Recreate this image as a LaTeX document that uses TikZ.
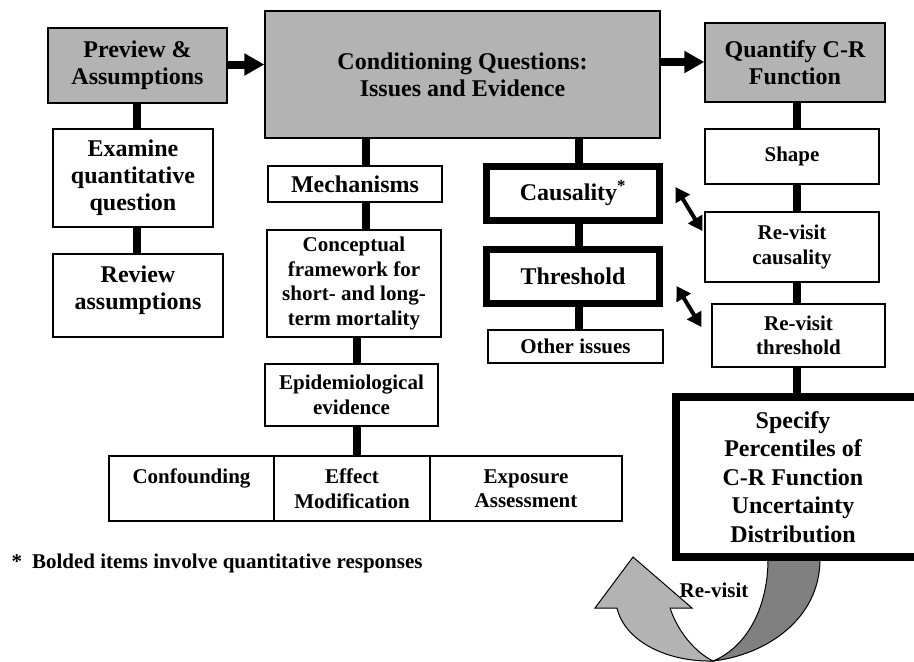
\documentclass[tikz,border=0pt]{standalone}
\usepackage{fontspec}
\setmainfont{Liberation Serif}
\usetikzlibrary{arrows.meta}
\definecolor{boxgray}{RGB}{179,179,179}
\definecolor{darkband}{RGB}{128,128,128}
\tikzset{
  every node/.style={font=\bfseries},
  big/.style={font=\bfseries\fontsize{24}{27}\selectfont},
  small/.style={font=\bfseries\fontsize{21}{24.5}\selectfont},
  box/.style={draw=black, line width=1.3pt, fill=white, align=center, inner sep=0pt},
  graybox/.style={box, fill=boxgray},
  heavybox/.style={draw=black, line width=7pt, fill=white, align=center, inner sep=0pt},
  link/.style={line width=8pt},
  fatarrow/.style={line width=8pt, -{Triangle[length=20pt,width=21pt]}},
  dblarrow/.style={line width=4pt, {Triangle[length=14pt,width=16pt]}-{Triangle[length=14pt,width=16pt]}},
  band/.style={draw=black, line width=1pt},
}
\begin{document}
\begin{tikzpicture}[x=1pt,y=-1pt]
\useasboundingbox (0,0) rectangle (914,662);

% curved re-visit arrow
\path[band, fill=darkband] (768,559) .. controls (768,610) and (745,648) .. (713,661)
  .. controls (765,655) and (820,620) .. (820,559) -- cycle;
\path[band, fill=boxgray] (713,661) .. controls (668,662) and (625,642) .. (617,608)
  -- (595,608) -- (633,557) -- (692,608) -- (670,608)
  .. controls (678,632) and (695,652) .. (713,661) -- cycle;
\node[small] (rv) at (714,590) {Re-visit};

% top row
\node[graybox, big, minimum width=179, minimum height=75] (prev) at (137.5,65.5) {Preview \&\\Assumptions};
\node[graybox, big, minimum width=395, minimum height=127] (cond) at (462.5,74.5) {Conditioning Questions:\\Issues and Evidence};
\node[graybox, big, minimum width=180, minimum height=79] (quant) at (795,62.5) {Quantify C-R\\Function};

% left column
\node[box, big, minimum width=160, minimum height=98] (exam) at (133,178) {Examine\\quantitative\\question};
\node[box, big, minimum width=170, minimum height=83] (rev) at (138,295.5) {Review\\assumptions\\[-12pt]\mbox{}};

% middle column
\node[box, big, minimum width=174, minimum height=36] (mech) at (355,184) {Mechanisms};
\node[box, small, minimum width=174, minimum height=107] (conc) at (354,283.5) {Conceptual\\framework for\\short- and long-\\term mortality};
\node[box, small, minimum width=173, minimum height=62] (epi) at (351.5,395) {Epidemiological\\evidence};
\node[box, small, minimum width=165, minimum height=65] (t1) at (191.5,488.5) {Confounding\\\mbox{}};
\node[box, small, minimum width=156, minimum height=65] (t2) at (352,488.5) {Effect\\Modification};
\node[box, small, minimum width=192, minimum height=65] (t3) at (526,488.5) {Exposure\\Assessment};

% issues column
\node[heavybox, big, minimum width=173, minimum height=54] (caus) at (573,193.5) {Causality\textsuperscript{*}};
\node[heavybox, big, minimum width=173, minimum height=54] (thr) at (573,276.5) {Threshold};
\node[box, small, minimum width=175, minimum height=33] (oth) at (575.5,346.5) {Other issues};

% right column
\node[box, small, minimum width=174, minimum height=55] (shape) at (792,156.5) {Shape};
\node[box, small, minimum width=174, minimum height=70] (rvc) at (792,247) {Re-visit\\causality};
\node[box, small, minimum width=173, minimum height=63] (rvt) at (798.5,335.5) {Re-visit\\threshold};
\node[heavybox, line width=8pt, minimum width=259, minimum height=160] (spec) at (805.5,477) {};
\node[font=\bfseries\fontsize{24}{28.5}\selectfont, align=center] (spectext) at (793,477) {Specify\\Percentiles of\\C-R Function\\Uncertainty\\Distribution};

% footnote
\node[small, anchor=west] (note) at (8,563) {*\hspace{10pt}Bolded items involve quantitative responses};

% helper coordinates for connector positions
\coordinate (xl) at (137,0);
\coordinate (xm1) at (366,0);
\coordinate (xm2) at (357,0);
\coordinate (xi) at (579,0);
\coordinate (xr) at (797,0);
\coordinate (ya) at (0,64.5);
\coordinate (yb) at (0,62);

% connectors
\draw[link] (prev.south -| xl) -- (exam.north -| xl);
\draw[link] (exam.south -| xl) -- (rev.north -| xl);
\draw[link] (cond.south -| xm1) -- (mech.north -| xm1);
\draw[link] (mech.south -| xm1) -- (conc.north -| xm1);
\draw[link] (conc.south -| xm2) -- (epi.north -| xm2);
\draw[link] (epi.south -| xm2) -- (t2.north -| xm2);
\draw[link] (cond.south -| xi) -- (caus.north -| xi);
\draw[link] (caus.south -| xi) -- (thr.north -| xi);
\draw[link] (thr.south -| xi) -- (oth.north -| xi);
\draw[link] (quant.south -| xr) -- (shape.north -| xr);
\draw[link] (shape.south -| xr) -- (rvc.north -| xr);
\draw[link] (rvc.south -| xr) -- (rvt.north -| xr);
\draw[link] (rvt.south -| xr) -- (spec.north -| xr);

% arrows
\draw[fatarrow] (prev.east |- ya) -- (cond.west |- ya);
\draw[fatarrow] (cond.east |- yb) -- (quant.west |- yb);
\draw[dblarrow] ([shift={(12.5,-6.5)}]caus.east) -- ([shift={(-2,-16)}]rvc.west);
\draw[dblarrow] ([shift={(13.5,9.5)}]thr.east) -- ([shift={(-10,-8.5)}]rvt.west);
\end{tikzpicture}
\end{document}
